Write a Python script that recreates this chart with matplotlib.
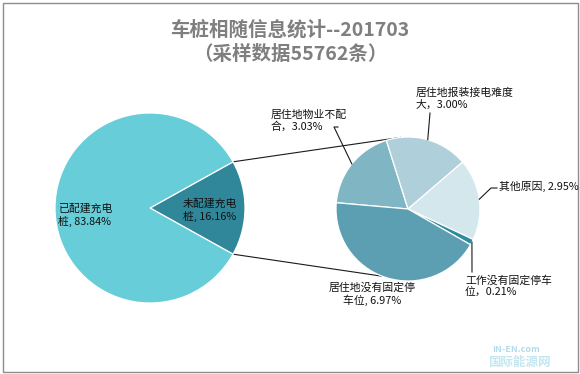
import numpy as np
import matplotlib.pyplot as plt
from matplotlib.patches import Rectangle

plt.rcParams['font.family'] = ['Noto Sans CJK SC', 'DejaVu Sans']

title = '车桩相随信息统计--201703\n（采样数据55762条）'

main_labels = ['未配建充电\n桩, 16.16%', '已配建充电\n桩, 83.84%']
main_values = [16.16, 83.84]
main_colors = ['#31879a', '#66cdd9']

sub_labels = ['居住地物业不配\n合，3.03%', '居住地报装接电难度\n大，3.00%', '其他原因, 2.95%',
              '工作没有固定停车\n位，0.21%', '居住地没有固定停\n车位, 6.97%']
sub_values = [3.03, 3.00, 2.95, 0.21, 6.97]
sub_colors = ['#80b5c4', '#afd0da', '#d4e7ec', '#2e8a9c', '#5c9fb2']

W, H = 580, 374


def Y(y):
    # picture rows -> axes y (upwards)
    return H - y


fig = plt.figure(figsize=(W / 100, H / 100), dpi=100)
ax = fig.add_axes([0, 0, 1, 1])

wp = dict(edgecolor='white', linewidth=0.9)
c_main, r_main = (150, Y(208)), 95
c_sub, r_sub = (408, Y(209)), 72

w_main, _ = ax.pie(main_values, colors=main_colors, center=c_main, radius=r_main,
                   startangle=-main_values[0] / 100 * 180, wedgeprops=wp)
w_sub, _ = ax.pie(sub_values, colors=sub_colors, center=c_sub, radius=r_sub,
                  startangle=175, counterclock=False, wedgeprops=wp)


def on_circle(c, r, ang):
    a = np.deg2rad(ang)
    return c[0] + r * np.cos(a), c[1] + r * np.sin(a)


# lines joining the two pies
for a_main, a_sub in [(w_main[0].theta2, 96), (w_main[0].theta1, -111)]:
    p1 = on_circle(c_main, r_main, a_main)
    p2 = on_circle(c_sub, r_sub, a_sub)
    ax.plot([p1[0], p2[0]], [p1[1], p2[1]], color='#1a1a1a', lw=0.8, zorder=0.5)

fs = 7.8
ax.text(210, Y(210), main_labels[0], ha='center', va='center', fontsize=fs, color='#111111')
ax.text(85, Y(215), main_labels[1], ha='center', va='center', fontsize=fs, color='#111111')

# sub labels: text position, alignment, leader bend points
label_pos = [((271, 121), 'left', [(338, 127), (334, 127)]),
             ((416, 99), 'left', [(430, 113)]),
             ((499, 186), 'left', [(497, 188), (491, 188)]),
             ((465, 286), 'left', [(472, 272)]),
             ((372, 294), 'center', [])]

for w, lab, (pos, ha, bends) in zip(w_sub, sub_labels, label_pos):
    ax.text(pos[0], Y(pos[1]), lab, ha=ha, va='center', fontsize=fs, color='#111111',
            linespacing=1.2)
    if bends:
        mid = (w.theta1 + w.theta2) / 2
        px, py = on_circle(c_sub, r_sub, mid)
        xs = [b[0] for b in bends] + [px]
        ys = [Y(b[1]) for b in bends] + [py]
        ax.plot(xs, ys, color='#1a1a1a', lw=0.8)

ax.text(290, Y(42), title, ha='center', va='center', fontsize=14, fontweight='bold',
        color='#7f7f7f', linespacing=1.4)

# watermark
ax.text(492, Y(350), 'IN-EN.com', fontsize=6.5, style='italic', fontweight='bold',
        color='#9fd3e6', ha='left', va='center', alpha=0.8)
ax.text(488, Y(362), '国际能源网', fontsize=9, fontweight='bold', color='#b5e0ee',
        ha='left', va='center', alpha=0.8)

ax.add_patch(Rectangle((2.5, 2.5), W - 5, H - 5, fill=False, edgecolor='#8c8c8c', lw=1))

ax.set_xlim(0, W)
ax.set_ylim(0, H)
ax.set_aspect('equal')
ax.axis('off')

fig.savefig('out.png', dpi=100)
